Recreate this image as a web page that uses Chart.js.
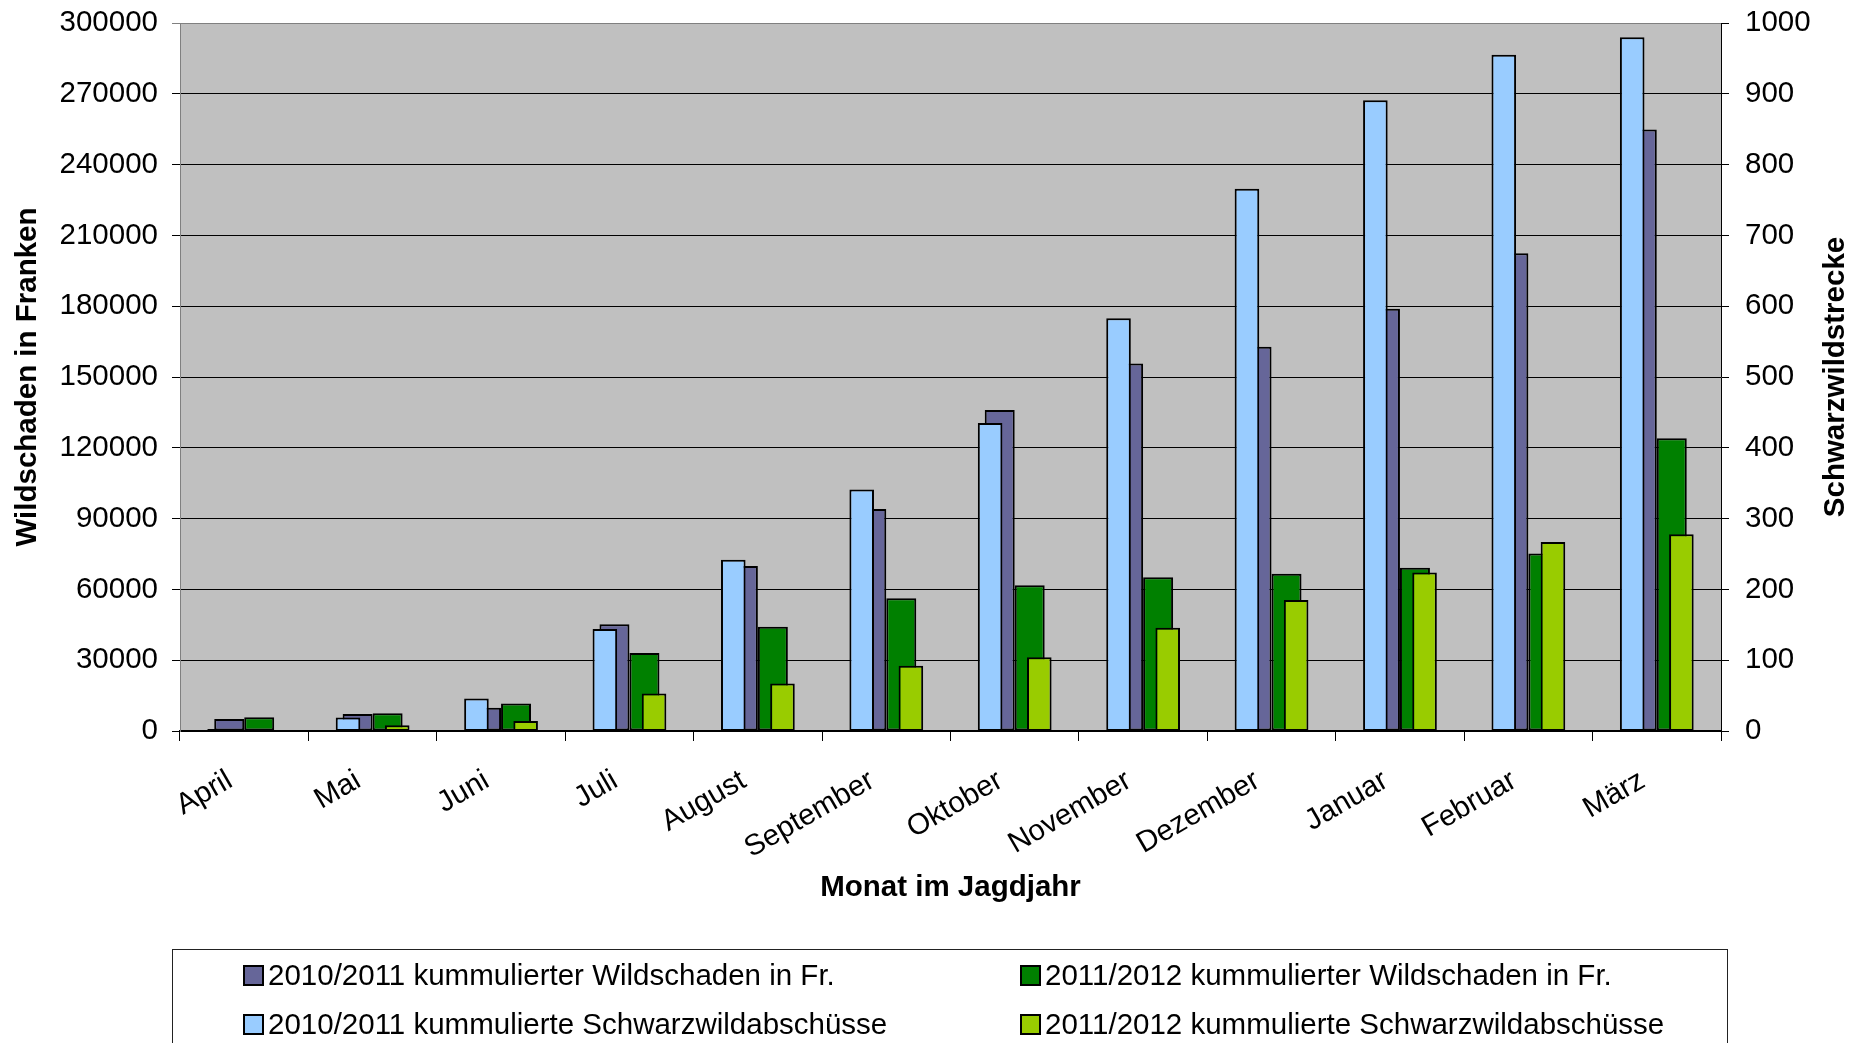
<!DOCTYPE html>
<html><head><meta charset="utf-8">
<script src="https://cdn.jsdelivr.net/npm/chart.js@4"></script>
<style>
html,body{margin:0;padding:0;background:#fff;}
#wrap{position:relative;width:1868px;height:1043px;overflow:hidden;}
canvas{position:absolute;left:0;top:0;}
#legend{position:absolute;left:172px;top:949px;width:1556px;height:140px;border:1px solid #222;box-sizing:border-box;font-family:"Liberation Sans",Arial,sans-serif;font-size:29.5px;color:#000;}
.item{position:absolute;display:flex;align-items:center;white-space:nowrap;height:32px;line-height:32px;}
.sw{box-sizing:border-box;width:21px;height:21px;border:2px solid #000;margin-right:4px;}
</style></head><body>
<div id="wrap"><canvas id="c" width="1868" height="1043"></canvas><canvas id="c2" width="1868" height="1043"></canvas><div id="legend"></div></div>
<script>
const months = ["April","Mai","Juni","Juli","August","September","Oktober","November","Dezember","Januar","Februar","März"];
const damage1011 = [5100, 7200, 9900, 45200, 69900, 94100, 136000, 155700, 162800, 178900, 202400, 254900];
const damage1112 = [5800, 7500, 11700, 33100, 44200, 56300, 61800, 65200, 66600, 69200, 75200, 124000];
const shots1011 = [3, 19, 46, 144, 242, 341, 435, 583, 766, 891, 955, 980];
const shots1112 = [1, 8, 14, 53, 67, 92, 104, 146, 185, 224, 267, 278];
const seriesNames = ["2010/2011 kummulierter Wildschaden in Fr.","2011/2012 kummulierter Wildschaden in Fr.","2010/2011 kummulierte Schwarzwildabschüsse","2011/2012 kummulierte Schwarzwildabschüsse"];
const xTitle = "Monat im Jagdjahr";
const yTitle = "Wildschaden in Franken";
const y2Title = "Schwarzwildstrecke";
const leftMax = 300000, leftStep = 30000;
const rightMax = 1000, rightStep = 100;

const FONT = '"Liberation Sans", Arial, sans-serif';
const FS = 29.5;
Chart.defaults.font.family = FONT;
Chart.defaults.color = '#000';

// plot geometry shared by both overlaid charts
const PAD = {top: 23, left: 180, right: 147, bottom: 312};

const plotBg = {
  id: 'plotBg',
  beforeDraw(chart) {
    const {ctx, chartArea: a} = chart;
    ctx.save();
    ctx.fillStyle = '#C0C0C0';
    ctx.fillRect(a.left, a.top, a.right - a.left, a.bottom - a.top);
    ctx.restore();
  }
};
const rightTitle = {
  id: 'rightTitle',
  afterDraw(chart) {
    const {ctx, chartArea: a} = chart;
    const s = chart.scales.y2;
    ctx.save();
    ctx.translate(s.right - 32, (a.top + a.bottom) / 2);
    ctx.rotate(-Math.PI / 2);
    ctx.font = 'bold ' + FS + 'px ' + FONT;
    ctx.textAlign = 'center';
    ctx.textBaseline = 'middle';
    ctx.fillStyle = '#000';
    ctx.fillText(y2Title, 0, 0);
    ctx.restore();
  }
};

const barBase = {borderColor: '#000', borderWidth: 2, borderSkipped: false};

// Chart A: axes, background, Wildschaden bars (left axis)
const chartA = new Chart(document.getElementById('c'), {
  type: 'bar',
  data: {
    labels: months,
    datasets: [
      Object.assign({label: seriesNames[0], data: damage1011, backgroundColor: '#666699', yAxisID: 'y', categoryPercentage: 0.467, barPercentage: 1.0}, barBase),
      Object.assign({label: seriesNames[1], data: damage1112, backgroundColor: '#008000', yAxisID: 'y', categoryPercentage: 0.467, barPercentage: 1.0}, barBase)
    ]
  },
  options: {
    responsive: false,
    animation: false,
    layout: {padding: {top: PAD.top, left: 0, right: 0, bottom: 137}},
    plugins: {legend: {display: false}, tooltip: {enabled: false}},
    scales: {
      x: {
        type: 'category', offset: true,
        grid: {display: true, drawOnChartArea: false, drawTicks: true, tickLength: 10, color: '#000', offset: true},
        border: {display: true, color: '#000', width: 2},
        ticks: {font: {size: FS}, maxRotation: 30, minRotation: 30, padding: 14, autoSkip: false, color: '#000',
                callback: (v, i) => months[i] + '  '},
        title: {display: true, text: xTitle, font: {size: FS, weight: 'bold'}, padding: {top: 0, bottom: 0}, color: '#000'},
        afterFit(s) { s.height = 175; }
      },
      y: {
        position: 'left', min: 0, max: leftMax,
        ticks: {stepSize: leftStep, font: {size: FS}, padding: 14, color: '#000', callback: v => String(v)},
        grid: {color: c => (c.tick && c.tick.value === leftMax) ? '#808080' : '#000', tickLength: 8, lineWidth: 1},
        border: {color: '#808080', width: 1},
        title: {display: true, text: yTitle, font: {size: FS, weight: 'bold'}, padding: {top: 10, bottom: 0}, color: '#000'},
        afterFit(s) { s.width = PAD.left; s.paddingTop = 0; s.paddingBottom = 0; }
      },
      y2: {
        position: 'right', min: 0, max: rightMax,
        ticks: {stepSize: rightStep, font: {size: FS}, padding: 16, color: '#000', callback: v => String(v)},
        grid: {drawOnChartArea: false, tickLength: 8, color: '#000'},
        border: {color: '#000', width: 1},
        afterFit(s) { s.width = PAD.right; s.paddingTop = 0; s.paddingBottom = 0; }
      }
    }
  },
  plugins: [plotBg, rightTitle]
});

// Chart B (overlay): Schwarzwild bars on the right-axis range, same plot area
const chartB = new Chart(document.getElementById('c2'), {
  type: 'bar',
  data: {
    labels: months,
    datasets: [
      Object.assign({label: seriesNames[2], data: shots1011, backgroundColor: '#99CCFF', categoryPercentage: 0.766, barPercentage: 0.5}, barBase),
      Object.assign({label: seriesNames[3], data: shots1112, backgroundColor: '#99CC00', categoryPercentage: 0.766, barPercentage: 0.5}, barBase)
    ]
  },
  options: {
    responsive: false,
    animation: false,
    layout: {padding: PAD},
    plugins: {legend: {display: false}, tooltip: {enabled: false}},
    scales: {
      x: {type: 'category', offset: true, display: false},
      y: {min: 0, max: rightMax, display: false}
    }
  }
});

// HTML legend built from the datasets
const legendPos = [[70, 25], [847, 25], [70, 74], [847, 74]];
const lg = document.getElementById('legend');
chartA.data.datasets.concat(chartB.data.datasets).forEach((ds, i) => {
  const it = document.createElement('div');
  it.className = 'item';
  it.style.left = legendPos[i][0] + 'px';
  it.style.top = (legendPos[i][1] - 16) + 'px';
  const sw = document.createElement('span');
  sw.className = 'sw';
  sw.style.background = ds.backgroundColor;
  const tx = document.createElement('span');
  tx.textContent = ds.label;
  it.appendChild(sw); it.appendChild(tx);
  lg.appendChild(it);
});
</script>
</body></html>
